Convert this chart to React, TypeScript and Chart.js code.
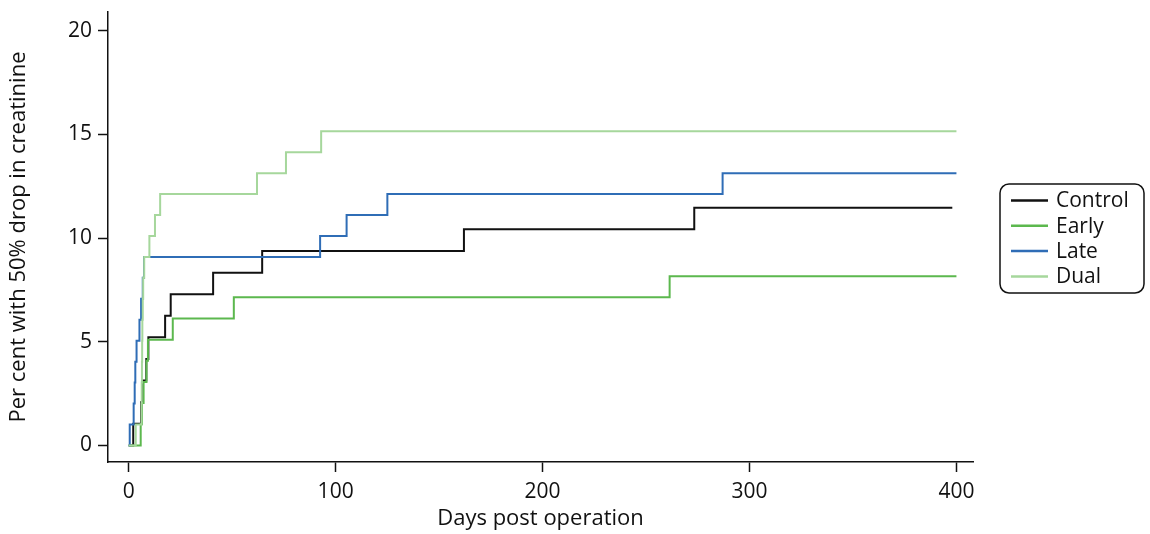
import React, { useEffect, useRef } from "react";
import { Chart, registerables } from "chart.js";

Chart.register(...registerables);

const seriesNames = ["Control", "Early", "Late", "Dual"];
const seriesColors = ["#111111", "#5cb84e", "#2f6db6", "#a6d79c"];

const xTicks = [0, 100, 200, 300, 400];
const yTicks = [0, 5, 10, 15, 20];

// [day, percent] step points (Kaplan–Meier style cumulative incidence)
const controlPts: [number, number][] = [
  [0, 0], [2.2, 1.04], [6.0, 2.08], [6.8, 3.13], [8.5, 4.17], [9.5, 5.21],
  [17.6, 6.25], [20.3, 7.29], [40.8, 8.33], [64.5, 9.38], [162, 10.42],
  [273.3, 11.46], [398, 11.46],
];
const earlyPts: [number, number][] = [
  [0, 0], [5.8, 1.02], [6.4, 2.04], [7.2, 3.06], [8.6, 4.08], [9.3, 5.1],
  [21.3, 6.12], [50.8, 7.14], [261.4, 8.16], [400, 8.16],
];
const latePts: [number, number][] = [
  [0, 0], [0.5, 1.01], [2.4, 2.02], [2.9, 3.03], [3.2, 4.04], [3.8, 5.05],
  [5.2, 6.06], [6.0, 7.07], [6.8, 8.08], [7.4, 9.09], [92.5, 10.1],
  [105.3, 11.11], [125, 12.12], [287, 13.13], [400, 13.13],
];
const dualPts: [number, number][] = [
  [0, 0], [3.4, 1.01], [6.2, 2.02], [6.3, 3.03], [6.4, 4.04], [6.5, 5.05],
  [6.6, 6.06], [6.8, 7.07], [7.0, 8.08], [7.5, 9.09], [10, 10.1],
  [12.7, 11.11], [15.2, 12.12], [62, 13.13], [76, 14.14], [93, 15.15],
  [400, 15.15],
];

const allSeries = [controlPts, earlyPts, latePts, dualPts];

const FONT = "'Open Sans', 'Noto Sans', sans-serif";

const boxLegend = {
  id: "boxLegend",
  afterDraw(chart: any) {
    const ctx = chart.ctx;
    const x0 = 1000, y0 = 184, w = 144, h = 109, r = 9;
    ctx.save();
    ctx.beginPath();
    ctx.moveTo(x0 + r, y0);
    ctx.lineTo(x0 + w - r, y0);
    ctx.arcTo(x0 + w, y0, x0 + w, y0 + r, r);
    ctx.lineTo(x0 + w, y0 + h - r);
    ctx.arcTo(x0 + w, y0 + h, x0 + w - r, y0 + h, r);
    ctx.lineTo(x0 + r, y0 + h);
    ctx.arcTo(x0, y0 + h, x0, y0 + h - r, r);
    ctx.lineTo(x0, y0 + r);
    ctx.arcTo(x0, y0, x0 + r, y0, r);
    ctx.closePath();
    ctx.fillStyle = "#ffffff";
    ctx.fill();
    ctx.lineWidth = 1.5;
    ctx.strokeStyle = "#111111";
    ctx.stroke();
    ctx.font = `21px ${FONT}`;
    ctx.textBaseline = "middle";
    ctx.textAlign = "left";
    chart.data.datasets.forEach((ds: any, i: number) => {
      const cy = y0 + 16.5 + i * 25.3;
      ctx.beginPath();
      ctx.moveTo(x0 + 11, cy);
      ctx.lineTo(x0 + 48, cy);
      ctx.lineWidth = 2.5;
      ctx.strokeStyle = ds.borderColor;
      ctx.stroke();
      ctx.fillStyle = "#111111";
      ctx.fillText(ds.label, x0 + 56, cy + 1);
    });
    ctx.restore();
  },
};

export default function App() {
  const ref = useRef<HTMLCanvasElement | null>(null);
  useEffect(() => {
    document.body.style.margin = "0";
    if (!ref.current) return;
    const chart = new Chart(ref.current, {
      type: "line",
      data: {
        datasets: allSeries.map((pts, i) => ({
          label: seriesNames[i],
          data: pts.map(([x, y]) => ({ x, y })),
          borderColor: seriesColors[i],
          backgroundColor: seriesColors[i],
          borderWidth: 2,
          pointRadius: 0,
          stepped: "before" as const,
          fill: false,
          order: 3 - i,
        })),
      },
      options: {
        responsive: false,
        animation: false,
        layout: { padding: { top: 12, right: 177, left: 0, bottom: 0 } },
        plugins: { legend: { display: false }, tooltip: { enabled: false } },
        scales: {
          x: {
            type: "linear",
            min: -10,
            max: 408,
            afterBuildTicks: (s: any) => {
              s.ticks = xTicks.map((v) => ({ value: v }));
            },
            afterFit: (s: any) => {
              s.height = 72;
              s.paddingLeft = 0;
              s.paddingRight = 0;
            },
            grid: {
              drawOnChartArea: false,
              drawTicks: true,
              tickLength: 10,
              tickColor: "#111111",
              tickWidth: 1.5,
            },
            border: { display: true, color: "#111111", width: 1.5 },
            ticks: {
              color: "#111111",
              font: { family: FONT, size: 21 },
              padding: 7,
              maxRotation: 0,
            },
            title: {
              display: true,
              text: "Days post operation",
              color: "#111111",
              font: { family: FONT, size: 22 },
              padding: { top: 0, bottom: 2 },
            },
          },
          y: {
            type: "linear",
            min: -0.8,
            max: 20.9,
            afterBuildTicks: (s: any) => {
              s.ticks = yTicks.map((v) => ({ value: v }));
            },
            afterFit: (s: any) => {
              s.width = 108;
              s.paddingTop = 0;
              s.paddingBottom = 0;
            },
            grid: {
              drawOnChartArea: false,
              drawTicks: true,
              tickLength: 10,
              tickColor: "#111111",
              tickWidth: 1.5,
            },
            border: { display: true, color: "#111111", width: 1.5 },
            ticks: {
              color: "#111111",
              font: { family: FONT, size: 21 },
              padding: 6,
            },
            title: {
              display: true,
              text: "Per cent with 50% drop in creatinine",
              color: "#111111",
              font: { family: FONT, size: 22 },
              padding: { top: 6, bottom: 0 },
            },
          },
        },
      },
      plugins: [boxLegend],
    });
    return () => chart.destroy();
  }, []);
  return (
    <div style={{ width: 1150, height: 534, background: "#ffffff" }}>
      <canvas ref={ref} width={1150} height={534} style={{ display: "block" }} />
    </div>
  );
}
